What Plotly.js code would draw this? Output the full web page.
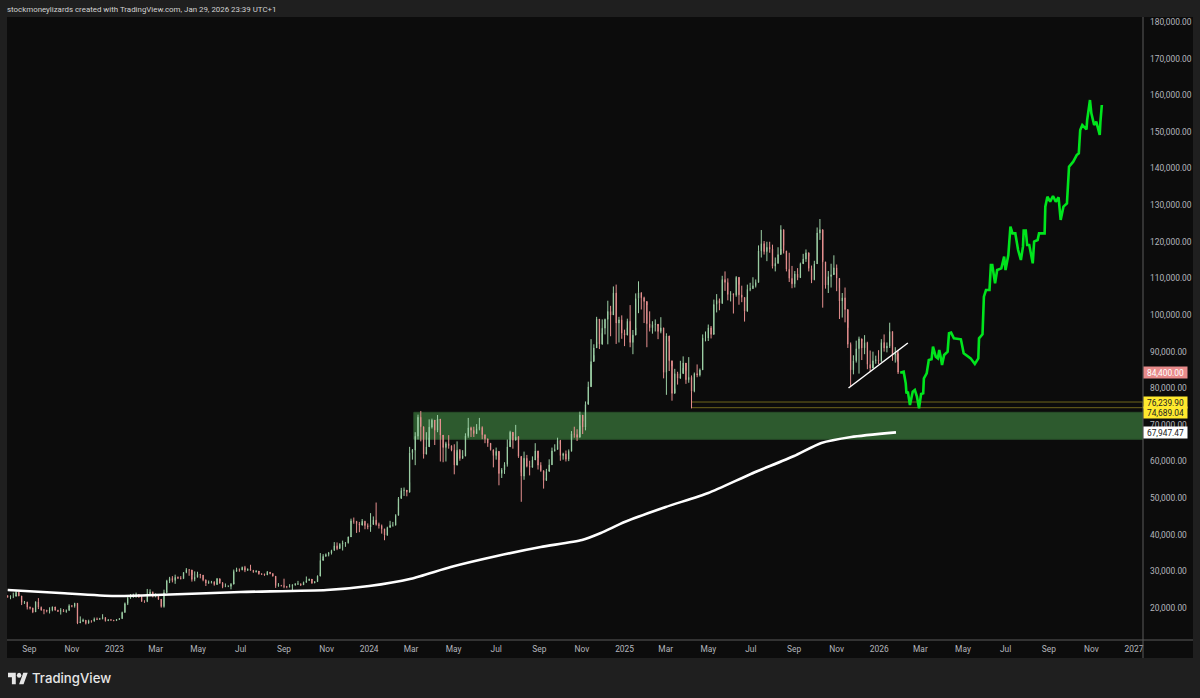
<!DOCTYPE html>
<html><head><meta charset="utf-8">
<script src="https://cdn.plot.ly/plotly-3.0.1.min.js"></script>
<style>html,body{margin:0;padding:0;background:#1f1f1f;overflow:hidden}#c{width:1200px;height:698px}
#logo{position:absolute;left:8px;top:672px;width:20px;height:13px}</style></head>
<body><div id="c"></div>
<svg id="logo" viewBox="0 3 36 20" preserveAspectRatio="none"><path fill="#e6e6e6" d="M14 22H7V11H0V4h14v18zM28 22h-8l7.5-18h8L28 22z"/><circle fill="#e6e6e6" cx="20" cy="8" r="4"/></svg>
<script>
const candleStart = '2022-08-01';
const candleStepDays = 4;
const closes = [
23100,23200,23200,24300,23300,21500,21600,20200,20000,18900,
21700,20200,19400,19400,19200,19400,20300,19400,19100,19300,
19000,19300,20600,20500,21300,15900,16300,16700,15800,16500,
16400,17000,16900,17100,17400,16500,16800,16700,16550,16850,
17100,18800,21200,22700,23000,23700,23700,23000,21800,21800,
23900,24300,23200,23600,22400,20400,24200,27400,28100,27500,
28400,28200,28000,29700,30500,30400,27800,28400,29200,29000,
27700,26800,27000,27100,26400,28000,26800,25800,25900,25900,
26500,30000,30500,30400,31100,30300,30600,30300,29900,30100,
29300,29200,29000,29800,29400,28700,26100,26200,26100,25900,
25800,25900,26200,26500,26600,26300,27000,27500,27900,26800,
27200,28700,33000,34100,34600,35000,35700,37000,36200,37400,
37700,37800,39400,43800,43700,43000,42600,43700,42500,42100,
42800,44000,42800,42500,41600,39900,42000,42600,42600,45300,
49900,52100,52200,51600,62400,63100,66900,72100,69500,62000,
64000,69400,71300,68500,71600,67200,63800,64900,64300,63100,
59000,63100,60800,61500,67000,69200,68500,67600,69000,69300,
67300,66200,65000,63200,61600,62800,56700,57700,59200,64000,
68000,65800,66800,61400,56000,60900,58700,58400,60400,62900,
59000,57500,54800,57300,59100,62900,63300,65800,61600,62100,
60600,62800,67600,67400,66600,72700,69400,75600,80400,87300,
91000,98900,92000,96400,98800,101000,100000,106000,97800,98700,
95000,94500,98300,92500,94500,104500,106100,104700,103700,97600,
96500,97400,97500,95500,96500,84300,94300,87500,78600,84000,
82700,84000,86900,82300,83000,79200,84000,83600,85000,93700,
93700,96500,94700,102900,104000,103200,109700,108900,105600,105800,
105500,110300,105500,104800,101000,107000,107200,108000,108900,117500,
119500,117300,118500,118000,113300,114100,116500,123300,117500,112500,
110000,108500,111200,110200,114000,115300,117000,112700,109600,114000,
122400,123300,114500,108200,110500,111000,112900,110000,103800,104700,
101500,92000,85000,87500,90800,93500,91000,92500,86500,85500,
87500,87800,87500,92500,91000,91500,95500,89000,89500,84400];
const highs = [
23500,23450,24200,24900,24400,23300,21900,21700,20400,20100,
21800,22700,20400,19700,19500,20200,20400,20100,19500,19950,
19700,19600,21000,20800,21400,21000,17700,17100,16700,16800,
16600,17400,17400,17300,18300,17500,16900,16950,16700,16950,
17200,19000,21500,23300,23800,23900,24200,23800,23300,22100,
25200,25100,24500,24000,23800,22200,25000,27700,28500,28700,
29100,28600,28700,29800,30900,30500,29000,30000,29900,29300,
29000,27600,27500,27400,27300,28200,27300,27100,26700,26200,
26800,30500,31000,30800,31300,31500,30800,31800,30300,30300,
29700,29500,29400,30100,29700,29500,26900,26800,26200,28000,
26000,26500,26500,26800,27400,26700,27200,28600,28000,27500,
27300,28900,35000,34700,34900,35300,35900,38000,37900,37700,
38400,38000,39500,44400,44700,43600,43500,44300,43800,43100,
45900,45000,48800,43300,42800,41000,42200,43800,43500,45600,
50300,52800,52900,52000,64000,63400,68000,72800,73800,68000,
68000,71500,71700,71000,72700,71200,66800,65400,67200,64400,
64700,65500,63400,63100,67700,71900,69500,69500,70200,71900,
69600,67200,66000,64500,62400,63800,60400,58200,59800,66000,
68400,67000,70000,66000,57000,62700,61800,60200,61400,65000,
61000,59800,56900,58000,60600,63800,64700,66500,64700,62400,
63000,63300,68300,69500,68800,73600,71000,76400,81800,93400,
92000,99500,98500,98800,99000,103900,102500,107800,108300,99500,
99900,96000,99000,102700,95900,105900,109200,106000,105000,102700,
101000,98300,98800,97000,99400,96500,95000,92800,86000,85300,
84500,87500,88700,84800,88500,83500,84300,86500,85400,94700,
95500,97400,97000,104200,105700,104500,110700,111900,110000,106500,
105900,110600,108300,108000,103500,108300,108800,110300,109700,119000,
123200,120200,120000,120000,119200,115700,118500,124500,119000,115000,
117000,113400,112000,112800,114300,116700,117900,116000,113500,114800,
123900,126200,115000,113500,112000,114000,116300,113800,107300,106000,
107500,96500,92500,89000,93000,94100,92800,94500,92700,90300,
90000,88900,90400,93400,94700,92500,97900,95500,91200,90500];
const lows = [
22800,22400,22700,23600,23200,20800,21100,19600,19600,18600,
19000,19700,19300,18300,18800,18500,19100,19300,18900,18200,
18900,18700,19300,20200,20100,15600,16000,16300,15500,15800,
16000,16300,16700,16800,16900,16300,16500,16500,16400,16500,
16800,17200,18900,20800,22500,22800,22800,22800,21700,21400,
21600,24000,22900,22900,22200,20100,20100,24500,26800,27000,
26600,27900,27800,28000,29500,28800,27200,27300,28500,28100,
27300,26000,26600,26700,26100,26700,26600,25400,25700,25700,
25100,27000,29900,29900,30300,29800,30100,30200,29600,29700,
29100,29000,28800,29000,29200,28600,25500,25800,25900,25400,
25400,25600,24900,26200,26300,26000,26300,27200,27400,26600,
26800,28000,29700,33400,34000,34100,34600,35700,35800,36200,
35700,36700,37600,39500,43000,40500,40700,43100,41500,41500,
40800,43100,42500,41700,40300,38500,39700,42300,42200,42700,
47500,50700,50600,50500,54300,60500,59000,66000,65500,60800,
62500,66500,69000,64500,68000,60000,59800,60000,63500,62800,
56500,62500,60200,60800,61400,66500,66700,66700,67500,68500,
66100,65000,64000,63000,58400,60500,53500,55500,56600,58600,
65500,63500,66500,61000,49000,55000,58400,56200,58800,60500,
57800,57200,52600,55500,57700,59200,62700,63800,60200,60500,
60000,60100,64800,66500,65600,69800,67500,68500,76300,86500,
89000,92600,90700,95000,94700,92000,94200,101000,92100,92500,
93500,91500,96500,91200,89300,96500,100500,101500,97800,91200,
95500,94900,95500,93400,95000,82700,78200,84700,76600,79900,
81000,83200,85500,81200,81500,74500,78900,83000,83200,85000,
92800,92900,93600,95000,100700,101300,103000,106600,104000,103700,
100400,105000,102800,103500,98200,105000,106500,107300,107500,109500,
115700,116500,114700,117000,112700,111900,114200,118000,116800,111900,
109000,107300,107500,109500,110500,114500,114500,111900,108700,109500,
114200,120500,102000,107200,106000,107500,111500,106500,98900,99300,
98000,91000,80600,83800,87000,84000,87700,89300,85200,84500,
86500,86700,86600,87200,90000,89800,91000,87500,87000,83900];
const extraDate = '2026-01-27', extraOpen = 89500, extraHigh = 90000, extraLow = 87300, extraClose = 87800;

const projDates = ['2026-01-31','2026-02-05','2026-02-08','2026-02-09','2026-02-11','2026-02-14','2026-02-18','2026-02-21','2026-02-24','2026-02-27','2026-03-02','2026-03-05','2026-03-06','2026-03-10','2026-03-13','2026-03-17','2026-03-19','2026-03-23','2026-03-26','2026-03-28','2026-03-30','2026-04-01','2026-04-04','2026-04-09','2026-04-11','2026-04-14','2026-04-18','2026-04-28','2026-05-02','2026-05-08','2026-05-12','2026-05-18','2026-05-23','2026-05-24','2026-05-29','2026-05-31','2026-06-03','2026-06-08','2026-06-10','2026-06-12','2026-06-16','2026-06-19','2026-06-25','2026-06-29','2026-07-01','2026-07-05','2026-07-08','2026-07-11','2026-07-15','2026-07-19','2026-07-23','2026-07-26','2026-07-27','2026-07-30','2026-08-01','2026-08-04','2026-08-09','2026-08-11','2026-08-16','2026-08-18','2026-08-26','2026-08-27','2026-08-30','2026-09-03','2026-09-07','2026-09-11','2026-09-15','2026-09-18','2026-09-22','2026-09-27','2026-09-30','2026-10-06','2026-10-11','2026-10-14','2026-10-16','2026-10-19','2026-10-25','2026-10-26','2026-10-30','2026-11-01','2026-11-05','2026-11-08','2026-11-13','2026-11-14','2026-11-16'];
const projPrices = [84260,84530,81340,78610,79070,75430,79070,79520,77700,74520,78430,78610,82710,84070,87710,87900,91350,88630,88170,90450,88630,86350,89080,89990,95000,95180,93630,93360,89540,88630,88170,86620,88170,93630,94720,105000,106830,106830,113650,113650,108650,112290,112740,115930,112290,116380,124120,122300,122300,117750,115020,118660,123030,123030,119110,119110,114110,120020,120480,122300,122300,129580,132310,130940,132490,130940,132130,125940,129580,130490,140500,141870,143680,144140,150510,151880,150690,153240,158700,155060,151880,152790,149150,152790,157340];

const smaDates = ['2022-08-01','2022-10-15','2023-01-01','2023-03-01','2023-07-01','2023-11-01','2024-01-01','2024-03-01','2024-04-27','2024-07-02','2024-09-03','2024-11-01','2024-11-28','2025-01-01','2025-03-01','2025-05-01','2025-07-01','2025-09-01','2025-10-10','2025-11-22','2026-01-25'];
const smaValues = [24910,24090,23270,23550,24370,24910,26000,28000,31200,34200,36650,38560,40480,43480,47580,51400,56590,61500,65050,66690,67950];

const trendDates = ['2025-11-18','2026-02-11'];
const trendValues = [80070,92360];

const zoneStart = '2024-03-05', zoneTop = 73430, zoneBottom = 66060;
const levelStart = '2025-04-07', levelHigh = 76239.90, levelLow = 74689.04;
const xRange = ['2022-07-31','2027-01-14'];
const yRange = [11263, 181365];

const xTickVals = ['2022-09-01','2022-11-01','2023-01-01','2023-03-01','2023-05-01','2023-07-01','2023-09-01','2023-11-01','2024-01-01','2024-03-01','2024-05-01','2024-07-01','2024-09-01','2024-11-01','2025-01-01','2025-03-01','2025-05-01','2025-07-01','2025-09-01','2025-11-01','2026-01-01','2026-03-01','2026-05-01','2026-07-01','2026-09-01','2026-11-01','2027-01-01'];
const xTickText = ['Sep','Nov','2023','Mar','May','Jul','Sep','Nov','2024','Mar','May','Jul','Sep','Nov','2025','Mar','May','Jul','Sep','Nov','2026','Mar','May','Jul','Sep','Nov','2027'];
const yTickVals = [20000,30000,40000,50000,60000,70000,80000,90000,100000,110000,120000,130000,140000,150000,160000,170000,180000];
const yTickText = yTickVals.map(v => v.toLocaleString('en-US') + '.00');

const priceLabels = [
  {text:'84,400.00', y:84400, bg:'#e88b8b', color:'#ffffff', shift:0},
  {text:'76,239.90', y:76239.9, bg:'#ffe92e', color:'#222222', shift:0},
  {text:'74,689.04', y:74689.04, bg:'#ffe92e', color:'#222222', shift:-5},
  {text:'67,947.47', y:67947.47, bg:'#ffffff', color:'#222222', shift:0}
];
const headerText = 'stockmoneylizards created with TradingView.com, Jan 29, 2026 23:39 UTC+1';
const brandText = 'TradingView';

const FONT = 'Roboto, "Noto Sans", sans-serif';
const dates = closes.map((_, i) => new Date(Date.UTC(2022,7,1) + i*candleStepDays*864e5).toISOString().slice(0,10));
const opens = closes.map((c, i) => i === 0 ? 23300 : closes[i-1]);
dates.push(extraDate); opens.push(extraOpen); highs.push(extraHigh); lows.push(extraLow); closes.push(extraClose);

const traces = [
 {type:'candlestick', x:dates, open:opens, high:highs, low:lows, close:closes, hoverinfo:'skip', whiskerwidth:0,
  increasing:{line:{color:'#9ccfa5',width:1}, fillcolor:'#b0e3b8'},
  decreasing:{line:{color:'#e58f8f',width:1}, fillcolor:'#f2a0a0'}},
 {type:'scatter', mode:'lines', x:smaDates, y:smaValues, line:{color:'#ffffff',width:2.6,shape:'spline',smoothing:0.6}, hoverinfo:'skip'},
 {type:'scatter', mode:'lines', x:trendDates, y:trendValues, line:{color:'#ffffff',width:1.5}, hoverinfo:'skip'},
 {type:'scatter', mode:'lines', x:projDates, y:projPrices, line:{color:'#00e51d',width:2.6,shape:'linear'}, hoverinfo:'skip'}
];

const PL=7, PR=1143, PT=17, PB=640, W=1200, H=698;
const fx = px => (px-PL)/(PR-PL);
const fy = py => (PB-py)/(PB-PT);

const annotations = priceLabels.map(l => ({xref:'paper', yref:'y', x:1, y:l.y, xanchor:'left', yanchor:'middle', yshift:l.shift, xshift:0,
  text:l.text, showarrow:false, bgcolor:l.bg, width:43, height:11, borderpad:0, font:{family:FONT,size:8.4,color:l.color}, align:'center'}));
annotations.push({xref:'paper', yref:'paper', x:fx(5), y:fy(9), xanchor:'left', yanchor:'middle', text:headerText, showarrow:false, font:{family:FONT,size:7.9,color:'#d2d2d2'}});
annotations.push({xref:'paper', yref:'paper', x:fx(30), y:fy(678), xanchor:'left', yanchor:'middle', text:brandText, showarrow:false, font:{family:'Inter, Roboto, sans-serif',size:13.2,weight:500,color:'#e6e6e6'}});

const layout = {
 width:W, height:H, autosize:false, showlegend:false,
 paper_bgcolor:'#1f1f1f', plot_bgcolor:'rgba(0,0,0,0)',
 margin:{l:PL, r:W-PR, t:PT, b:H-PB, pad:0},
 xaxis:{type:'date', range:xRange, tickmode:'array', tickvals:xTickVals, ticktext:xTickText, showgrid:false, zeroline:false, ticks:'', rangeslider:{visible:false},
   showline:false, tickfont:{family:FONT,size:8.4,color:'#b4b6bc'}, ticklabelstandoff:3},
 yaxis:{side:'right', range:yRange, tickmode:'array', tickvals:yTickVals, ticktext:yTickText, showgrid:false, zeroline:false, ticks:'',
   showline:false, tickfont:{family:FONT,size:8.4,color:'#b4b6bc'}, ticklabelstandoff:6},
 shapes:[
  {type:'rect', layer:'below', xref:'paper', yref:'paper', x0:fx(7), x1:fx(1193), y0:fy(658), y1:fy(17), fillcolor:'#0c0c0c', line:{width:0}},
  {type:'rect', layer:'below', xref:'x', yref:'y', x0:zoneStart, x1:xRange[1], y0:zoneBottom, y1:zoneTop, fillcolor:'#2d5a2e', line:{color:'#274d28',width:1}},
  {type:'rect', layer:'below', xref:'x', yref:'y', x0:levelStart, x1:xRange[1], y0:levelLow, y1:levelHigh, fillcolor:'rgba(0,0,0,0)', line:{color:'#6f661c',width:1}},
  {type:'line', layer:'above', xref:'paper', yref:'paper', x0:1, x1:1, y0:fy(658), y1:fy(17), line:{color:'#5a5a5a',width:1}},
  {type:'line', layer:'above', xref:'paper', yref:'paper', x0:fx(7), x1:fx(1193), y0:0, y1:0, line:{color:'#5a5a5a',width:1}}
 ],
 annotations
};
Plotly.newPlot('c', traces, layout, {staticPlot:true, displayModeBar:false});
</script></body></html>
